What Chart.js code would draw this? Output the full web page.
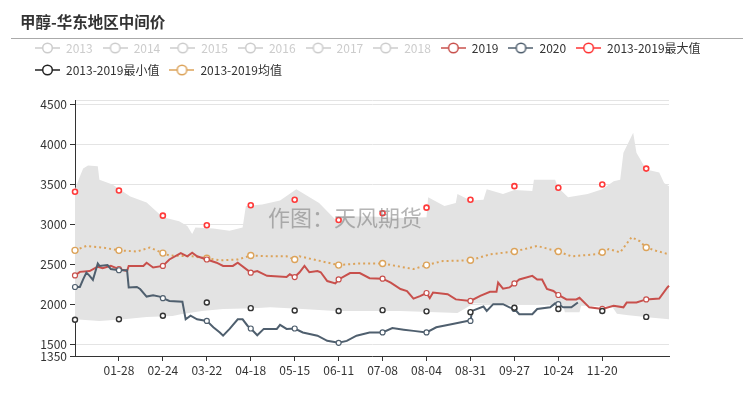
<!DOCTYPE html>
<html>
<head>
<meta charset="utf-8">
<script src="https://cdn.jsdelivr.net/npm/chart.js@4.4.0/dist/chart.umd.min.js"></script>
<style>
  html, body { margin: 0; padding: 0; background: #fff; }
  #wrap { position: relative; width: 755px; height: 399px; overflow: hidden; }
  #title { position: absolute; left: 20px; top: 10px; line-height: 22px; font: bold 15.5px "Noto Sans CJK SC", sans-serif; color: #333; }
  #rule { position: absolute; left: 11px; top: 38px; width: 732px; height: 1px; background: #aaa; }
  #mark { position: absolute; left: 268px; top: 200px; line-height: 30px; font: 22px "Noto Sans CJK SC", sans-serif; color: rgba(120, 120, 120, 0.55); pointer-events: none; }
  canvas { position: absolute; left: 0; top: 0; }
</style>
</head>
<body>
<div id="wrap">
  <canvas id="methanolChart" width="755" height="399"></canvas>
  <div id="title">甲醇-华东地区中间价</div>
  <div id="rule"></div>
  <div id="mark">作图：天风期货</div>
</div>
<script>
// one calendar year (leap year template), MM-DD labels
const dates = [];
for (let i = 0; i < 366; i++) {
  const dt = new Date(2020, 0, 1 + i);
  dates.push(String(dt.getMonth() + 1).padStart(2, "0") + "-" + String(dt.getDate()).padStart(2, "0"));
}
const markEvery = 27;

const legendNames = ["2013", "2014", "2015", "2016", "2017", "2018", "2019", "2020", "2013-2019最大值", "2013-2019最小值", "2013-2019均值"];
const legendColors = ["#ccc", "#ccc", "#ccc", "#ccc", "#ccc", "#ccc", "#c8504c", "#4f5f6e", "#ff3333", "#222", "#dca35a"];
const legendActive = [false, false, false, false, false, false, true, true, true, true, true];

const yMin = 1350;
const yMax = 4560;
const yTicks = [1350, 1500, 2000, 2500, 3000, 3500, 4000, 4500, 4560];

// grey range band
const upperDays = [0, 3, 5, 8, 14, 15, 23, 34, 44, 54, 64, 69, 72, 74, 85, 95, 103, 105, 115, 126, 136, 150, 161, 165, 181, 202, 216, 217, 227, 234, 235, 243, 251, 253, 263, 270, 281, 282, 295, 297, 303, 315, 324, 331, 335, 337, 343, 345, 351, 359, 362, 365];
const upperValues = [3440, 3600, 3700, 3740, 3730, 3560, 3500, 3350, 3275, 3090, 3040, 2980, 2880, 2960, 2950, 2920, 2960, 3230, 3250, 3300, 3440, 3270, 3040, 3100, 3100, 3080, 3090, 3340, 3230, 3270, 3380, 3300, 3310, 3440, 3380, 3430, 3420, 3560, 3560, 3460, 3340, 3380, 3440, 3540, 3560, 3900, 4150, 3900, 3690, 3650, 3520, 3480];
const lowerDays = [0, 15, 30, 44, 60, 65, 78, 91, 110, 120, 140, 160, 200, 222, 235, 240, 245, 260, 282, 300, 301, 310, 311, 330, 333, 340, 355, 365];
const lowerValues = [1810, 1790, 1810, 1840, 1850, 1875, 1915, 1940, 1950, 1960, 1940, 1915, 1915, 1900, 1890, 1950, 2010, 2000, 2000, 1990, 1900, 1900, 1980, 1970, 1880, 1860, 1830, 1810];

const days2019 = [0, 3, 9, 14, 17, 22, 27, 32, 33, 42, 44, 48, 54, 58, 65, 69, 72, 75, 81, 87, 91, 97, 100, 108, 112, 118, 130, 132, 135, 138, 141, 144, 149, 151, 155, 160, 162, 169, 175, 181, 189, 194, 200, 204, 208, 212, 216, 218, 220, 229, 234, 243, 249, 255, 259, 260, 263, 267, 270, 273, 281, 284, 287, 290, 294, 297, 302, 308, 310, 316, 324, 331, 337, 339, 345, 351, 359, 364, 365];
const values2019 = [2360, 2405, 2415, 2470, 2450, 2480, 2440, 2415, 2480, 2480, 2520, 2460, 2480, 2560, 2640, 2600, 2645, 2600, 2560, 2520, 2480, 2480, 2520, 2395, 2415, 2355, 2340, 2375, 2340, 2400, 2480, 2400, 2415, 2400, 2290, 2260, 2310, 2390, 2390, 2325, 2320, 2270, 2190, 2165, 2070, 2100, 2140, 2075, 2145, 2125, 2060, 2040, 2105, 2155, 2155, 2270, 2195, 2210, 2260, 2310, 2355, 2310, 2310, 2190, 2165, 2115, 2060, 2060, 2080, 1960, 1940, 1980, 1960, 2020, 2020, 2060, 2070, 2210, 2230];

const days2020 = [0, 3, 5, 7, 9, 11, 14, 15, 20, 22, 27, 32, 33, 38, 40, 44, 48, 52, 54, 58, 66, 68, 71, 75, 81, 85, 89, 91, 95, 100, 103, 106, 108, 112, 116, 124, 126, 130, 135, 140, 149, 155, 162, 167, 173, 181, 189, 195, 202, 208, 216, 222, 232, 241, 243, 244, 251, 253, 257, 263, 267, 270, 273, 281, 284, 292, 295, 297, 300, 305, 309];
const values2020 = [2215, 2215, 2310, 2395, 2355, 2305, 2510, 2480, 2490, 2440, 2425, 2425, 2210, 2215, 2190, 2095, 2110, 2095, 2075, 2040, 2030, 1810, 1855, 1810, 1790, 1710, 1645, 1605, 1690, 1810, 1810, 1730, 1695, 1610, 1690, 1690, 1740, 1690, 1695, 1645, 1605, 1540, 1515, 1540, 1605, 1645, 1645, 1700, 1680, 1665, 1645, 1710, 1750, 1790, 1790, 1915, 1970, 1915, 2000, 2000, 1960, 1940, 1875, 1875, 1940, 1960, 2010, 2000, 1960, 1960, 2020];

const statDays = [0, 27, 54, 81, 108, 135, 162, 189, 216, 243, 270, 297, 324, 351];
const maxValues = [3410, 3425, 3110, 2990, 3240, 3310, 3055, 3140, 3210, 3310, 3480, 3460, 3500, 3700];
const minValues = [1805, 1810, 1855, 2020, 1950, 1920, 1915, 1925, 1910, 1900, 1955, 1940, 1915, 1840];

const meanDays = [0, 7, 17, 27, 38, 46, 54, 58, 72, 81, 89, 100, 108, 120, 130, 135, 138, 151, 162, 175, 189, 208, 216, 226, 243, 255, 270, 284, 297, 305, 320, 324, 328, 335, 342, 347, 351, 357, 365];
const meanValues = [2675, 2730, 2710, 2675, 2660, 2710, 2640, 2610, 2600, 2575, 2550, 2560, 2610, 2600, 2600, 2560, 2600, 2540, 2490, 2510, 2510, 2440, 2490, 2540, 2550, 2625, 2660, 2730, 2660, 2600, 2625, 2650, 2690, 2650, 2840, 2790, 2710, 2670, 2625];

function toPoints(days, values) {
  return days.map((d, i) => ({ x: dates[d], y: values[i], d: d }));
}

function isLabelDay(i) {
  return i > 0 && i <= 324 && i % markEvery === 0;
}

function markerRadius(ctx) {
  return ctx.raw && ctx.raw.d % markEvery === 0 ? 2.5 : 0;
}

// ECharts-like legend icon: short line with hollow circle
function makeIcon(color) {
  const c = document.createElement("canvas");
  c.width = 25;
  c.height = 14;
  const g = c.getContext("2d");
  g.strokeStyle = color;
  g.lineWidth = 1.5;
  g.beginPath();
  g.moveTo(0, 7);
  g.lineTo(25, 7);
  g.stroke();
  g.beginPath();
  g.arc(12.5, 7, 4.8, 0, Math.PI * 2);
  g.fillStyle = "#fff";
  g.fill();
  g.stroke();
  return c;
}

const font = { family: "'Noto Sans CJK SC', sans-serif", size: 12 };

const legendSpacer = {
  id: "legendSpacer",
  beforeInit(chart) {
    const fit = chart.legend.fit;
    chart.legend.fit = function () {
      fit.bind(chart.legend)();
      this.height += 14;
    };
  },
};

const ctx = document.getElementById("methanolChart").getContext("2d");
const methanolChart = new Chart(ctx, {
  type: "line",
  data: {
    labels: dates,
    datasets: [
      {
        label: "band-high",
        data: toPoints(upperDays, upperValues),
        borderWidth: 0,
        pointRadius: 0,
        fill: "+1",
        backgroundColor: "#e3e3e3",
        order: 5,
      },
      {
        label: "band-low",
        data: toPoints(lowerDays, lowerValues),
        borderWidth: 0,
        pointRadius: 0,
        fill: false,
        order: 5,
      },
      {
        label: "2019",
        data: toPoints(days2019, values2019),
        borderColor: "#c8504c",
        borderWidth: 2,
        pointRadius: markerRadius,
        pointBackgroundColor: "#fff",
        pointBorderColor: "#c8504c",
        pointBorderWidth: 1.2,
        clip: 6,
        order: 2,
      },
      {
        label: "2020",
        data: toPoints(days2020, values2020),
        borderColor: "#4f5f6e",
        borderWidth: 2,
        pointRadius: markerRadius,
        pointBackgroundColor: "#fff",
        pointBorderColor: "#4f5f6e",
        pointBorderWidth: 1.2,
        clip: 6,
        order: 1,
      },
      {
        label: "2013-2019最大值",
        data: toPoints(statDays, maxValues),
        showLine: false,
        pointRadius: 2.5,
        pointBackgroundColor: "#fff",
        pointBorderColor: "#ff3a3a",
        pointBorderWidth: 1.6,
        clip: 6,
        order: 0,
      },
      {
        label: "2013-2019最小值",
        data: toPoints(statDays, minValues),
        showLine: false,
        pointRadius: 2.5,
        pointBackgroundColor: "#fff",
        pointBorderColor: "#333",
        pointBorderWidth: 1.4,
        clip: 6,
        order: 0,
      },
      {
        label: "2013-2019均值",
        data: toPoints(meanDays, meanValues),
        borderColor: "#dca35a",
        borderWidth: 2,
        borderDash: [2, 3],
        pointRadius: (c) => (c.raw && c.raw.d % markEvery === 0 ? 3 : 0),
        pointBackgroundColor: "#fff",
        pointBorderColor: "#dca35a",
        pointBorderWidth: 1.4,
        clip: 6,
        order: 3,
      },
    ],
  },
  options: {
    responsive: false,
    animation: false,
    events: [],
    layout: {
      padding: { top: 32, left: 25, right: 0, bottom: 0 },
    },
    plugins: {
      tooltip: { enabled: false },
      legend: {
        display: true,
        position: "top",
        align: "start",
        labels: {
          usePointStyle: true,
          pointStyleWidth: 25,
          padding: 10,
          font: font,
          color: "#333",
          generateLabels: () =>
            legendNames.map((name, i) => ({
              text: name,
              fontColor: legendActive[i] ? "#333" : "#ccc",
              pointStyle: makeIcon(legendColors[i]),
              fillStyle: "transparent",
              strokeStyle: "transparent",
              lineWidth: 0,
              hidden: false,
            })),
        },
      },
    },
    scales: {
      x: {
        type: "category",
        ticks: {
          autoSkip: false,
          maxRotation: 0,
          padding: 2,
          color: "#333",
          font: font,
          callback: (v, i) => (isLabelDay(i) ? dates[i] : ""),
        },
        grid: {
          display: true,
          drawOnChartArea: false,
          drawTicks: true,
          tickLength: 5,
          color: "rgba(0,0,0,0)",
          tickColor: (c) => (isLabelDay(c.index) ? "#333" : "rgba(0,0,0,0)"),
        },
        border: { color: "#333" },
        afterFit: (s) => {
          s.height = 43;
        },
      },
      y: {
        type: "linear",
        position: "left",
        min: yMin,
        max: yMax,
        afterBuildTicks: (s) => {
          s.ticks = yTicks.map((v) => ({ value: v }));
        },
        ticks: {
          padding: 3,
          color: "#333",
          font: font,
          callback: (v) => (v === yMax ? "" : v),
        },
        grid: {
          color: "#e4e4e4",
          tickLength: 5,
          tickColor: (c) => (c.tick && c.tick.value === yMax ? "rgba(0,0,0,0)" : "#333"),
        },
        border: { color: "#333" },
        afterFit: (s) => {
          s.width = 50;
        },
      },
      yRight: {
        type: "linear",
        axis: "y",
        position: "right",
        display: true,
        grid: { display: false },
        ticks: { display: false },
        border: { display: false },
        afterFit: (s) => {
          s.width = 86;
        },
      },
    },
  },
  plugins: [legendSpacer],
});
</script>
</body>
</html>
